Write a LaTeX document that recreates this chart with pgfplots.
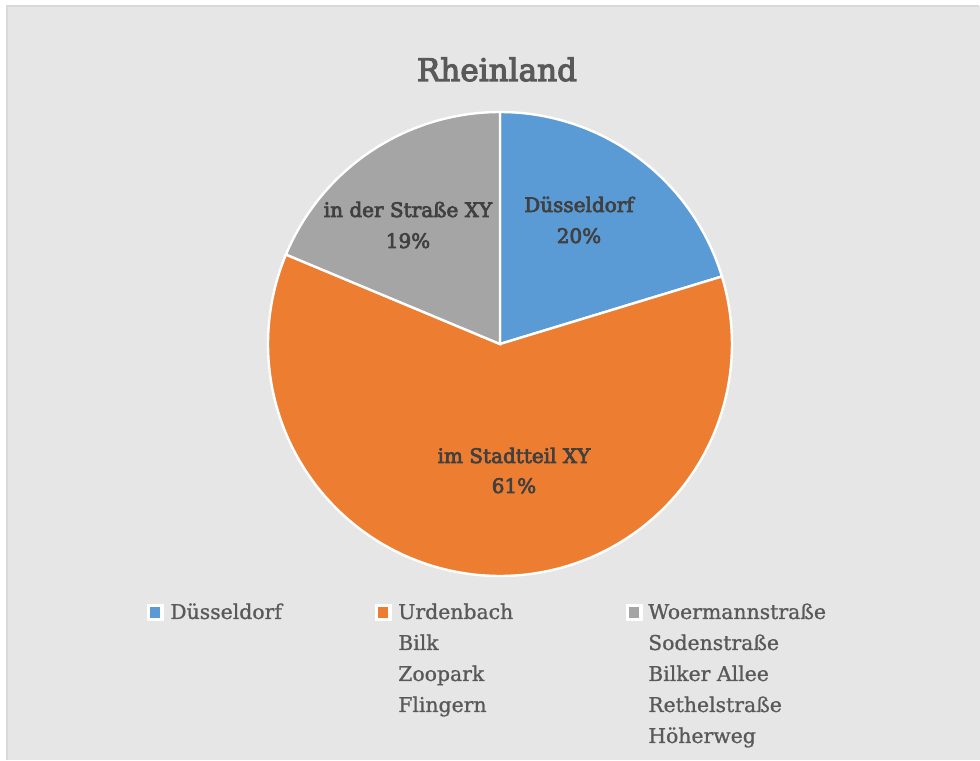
\documentclass[border=0pt]{standalone}
\usepackage{pgfplots}
\pgfplotsset{compat=1.18}
\usepackage{fontspec}
\setmainfont{DejaVu Serif}
\newfontfamily\boldserif[FakeBold=3.5]{DejaVu Serif}
\newfontfamily\legserif[FakeBold=1]{DejaVu Serif}
\definecolor{bg}{HTML}{E7E6E6}
\definecolor{frame}{HTML}{D9D9D9}
\definecolor{pblue}{HTML}{5B9BD5}
\definecolor{porange}{HTML}{ED7D31}
\definecolor{pgray}{HTML}{A5A5A5}
\definecolor{titlec}{HTML}{595959}
\definecolor{legc}{HTML}{595959}
\definecolor{labc}{HTML}{404040}
% shares in percent (from the chart)
\def\va{20.3}% Duesseldorf
\def\vb{61.0}% im Stadtteil XY
\def\vc{18.7}% in der Strasse XY
\pgfmathsetmacro{\aA}{90}
\pgfmathsetmacro{\aB}{90-3.6*\va}
\pgfmathsetmacro{\aC}{\aB-3.6*\vb}
\pgfmathsetmacro{\aD}{\aC-3.6*\vc}
\newcommand{\legf}{\legserif\fontsize{15.3pt}{18pt}\selectfont}
\newcommand{\labf}{\boldserif\fontsize{15.0pt}{18pt}\selectfont}
\newcommand{\titf}{\boldserif\fontsize{23.3pt}{28pt}\selectfont}
\begin{document}
\begin{tikzpicture}
\begin{axis}[scale only axis, width=735pt, height=570pt,
  xmin=0, xmax=980, ymin=0, ymax=760, y dir=reverse,
  hide axis, clip=false]
\fill[white] (axis cs:0,0) rectangle (axis cs:980,760);
\fill[bg] (axis cs:7,6) rectangle (axis cs:980,760);
\draw[frame, line width=0.8pt] (axis cs:7,760) -- (axis cs:7,6) -- (axis cs:979.5,6);
% pie wedges
\addplot[fill=pblue, draw=white, line width=1.8pt, domain=\aB:\aA, samples=60, variable=\t]
  ({500+232*cos(\t)}, {344-232*sin(\t)}) -- (axis cs:500,344) -- cycle;
\addplot[fill=porange, draw=white, line width=1.8pt, domain=\aC:\aB, samples=150, variable=\t]
  ({500+232*cos(\t)}, {344-232*sin(\t)}) -- (axis cs:500,344) -- cycle;
\addplot[fill=pgray, draw=white, line width=1.8pt, domain=\aD:\aC, samples=60, variable=\t]
  ({500+232*cos(\t)}, {344-232*sin(\t)}) -- (axis cs:500,344) -- cycle;
% title
\node[anchor=base, inner sep=0pt, font=\titf, text=titlec] at (axis cs:497,81) {Rheinland};
% data labels
\node[anchor=base, inner sep=0pt, font=\labf, text=labc] at (axis cs:579,212) {Düsseldorf};
\node[anchor=base, inner sep=0pt, font=\labf, text=labc] at (axis cs:579,243) {20\%};
\node[anchor=base, inner sep=0pt, font=\labf, text=labc] at (axis cs:408,217) {in der Straße XY};
\node[anchor=base, inner sep=0pt, font=\labf, text=labc] at (axis cs:408,248) {19\%};
\node[anchor=base, inner sep=0pt, font=\labf, text=labc] at (axis cs:514,463) {im Stadtteil XY};
\node[anchor=base, inner sep=0pt, font=\labf, text=labc] at (axis cs:514,493) {61\%};
% legend
\fill[white] (axis cs:147,604) rectangle (axis cs:164,621);
\fill[pblue] (axis cs:150.5,607) rectangle (axis cs:160.5,618);
\fill[white] (axis cs:375,604) rectangle (axis cs:392,621);
\fill[porange] (axis cs:378.5,607) rectangle (axis cs:388.5,618);
\fill[white] (axis cs:626,604) rectangle (axis cs:643,621);
\fill[pgray] (axis cs:629.5,607) rectangle (axis cs:639.5,618);
\node[anchor=base west, inner sep=0pt, font=\legf, text=legc] at (axis cs:170,619) {Düsseldorf};
\node[anchor=base west, inner sep=0pt, font=\legf, text=legc] at (axis cs:398,619) {Urdenbach};
\node[anchor=base west, inner sep=0pt, font=\legf, text=legc] at (axis cs:398,650) {Bilk};
\node[anchor=base west, inner sep=0pt, font=\legf, text=legc] at (axis cs:398,681) {Zoopark};
\node[anchor=base west, inner sep=0pt, font=\legf, text=legc] at (axis cs:398,712) {Flingern};
\node[anchor=base west, inner sep=0pt, font=\legf, text=legc] at (axis cs:648,619) {Woermannstraße};
\node[anchor=base west, inner sep=0pt, font=\legf, text=legc] at (axis cs:648,650) {Sodenstraße};
\node[anchor=base west, inner sep=0pt, font=\legf, text=legc] at (axis cs:648,681) {Bilker Allee};
\node[anchor=base west, inner sep=0pt, font=\legf, text=legc] at (axis cs:648,712) {Rethelstraße};
\node[anchor=base west, inner sep=0pt, font=\legf, text=legc] at (axis cs:648,743) {Höherweg};
\end{axis}
\end{tikzpicture}
\end{document}
